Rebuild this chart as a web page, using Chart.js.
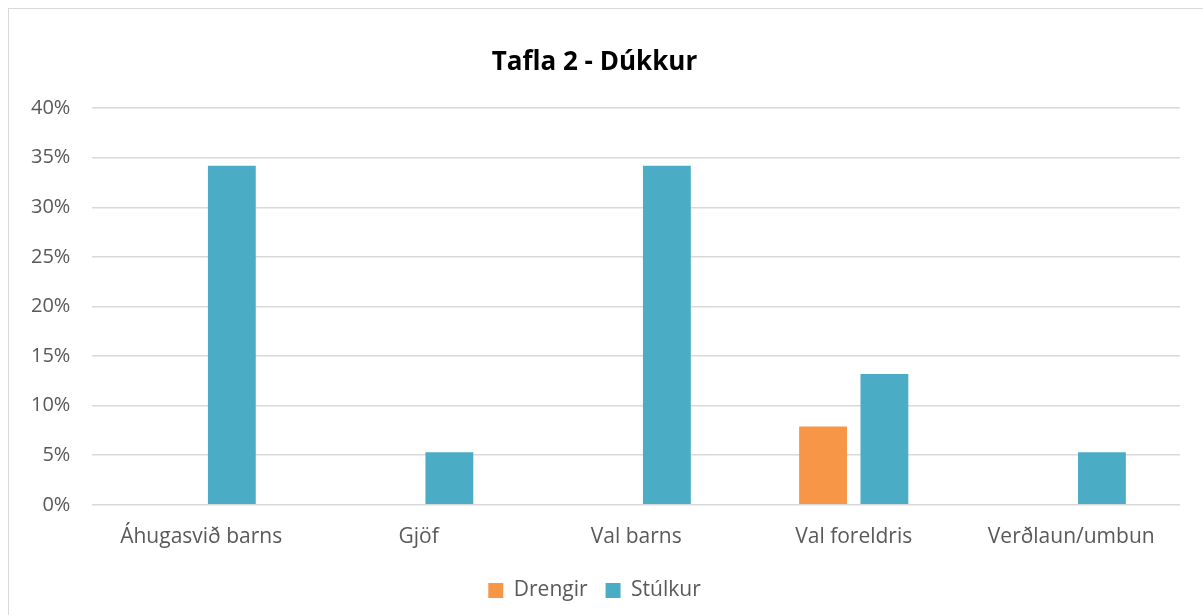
<!DOCTYPE html>
<html>
<head>
<meta charset="utf-8">
<style>
  html, body { margin: 0; padding: 0; background: #fff; }
  #wrap { position: absolute; left: 8px; top: 8px; width: 1200px; height: 612px; border: 1px solid #d9d9d9; box-sizing: border-box; }
</style>
</head>
<body>
<div id="wrap"><canvas id="Grafica"></canvas></div>
<script src="https://cdn.jsdelivr.net/npm/chart.js"></script>
<script>
const flokkar = ["Áhugasvið barns", "Gjöf", "Val barns", "Val foreldris", "Verðlaun/umbun"];
const drengir = [0, 0, 0, 7.9, 0];      // %
const stulkur = [34.2, 5.3, 34.2, 13.2, 5.3];
const yTicks = [0, 5, 10, 15, 20, 25, 30, 35, 40];

Chart.defaults.font.family = "'Open Sans', 'Noto Sans', sans-serif";
Chart.defaults.color = "#595959";

new Chart(document.getElementById("Grafica"), {
  type: "bar",
  data: {
    labels: flokkar,
    datasets: [
      { label: "Drengir", data: drengir, backgroundColor: "#F79646" },
      { label: "Stúlkur", data: stulkur, backgroundColor: "#4BACC6" }
    ]
  },
  options: {
    responsive: true,
    maintainAspectRatio: false,
    animation: false,
    categoryPercentage: 0.564,
    barPercentage: 0.78,
    layout: { padding: { left: 0, right: 27, top: 38, bottom: 8 } },
    plugins: {
      title: {
        display: true,
        text: "Tafla 2 - Dúkkur",
        color: "#000",
        font: { size: 26, weight: "bold" },
        padding: { top: 0, bottom: 30 }
      },
      legend: {
        position: "bottom",
        labels: { boxWidth: 15, boxHeight: 15, font: { size: 21 }, padding: 18 }
      },
      tooltip: { enabled: false }
    },
    scales: {
      x: {
        grid: { display: false },
        border: { display: false },
        ticks: { font: { size: 21 }, padding: 12, maxRotation: 0 }
      },
      y: {
        min: 0,
        max: 40,
        afterBuildTicks: axis => { axis.ticks = yTicks.map(v => ({ value: v })); },
        grid: { color: "#d9d9d9", lineWidth: 1.5, drawTicks: false },
        border: { display: false },
        ticks: { font: { size: 20 }, padding: 22, callback: v => v + "%" }
      }
    }
  }
});
</script>
</body>
</html>
